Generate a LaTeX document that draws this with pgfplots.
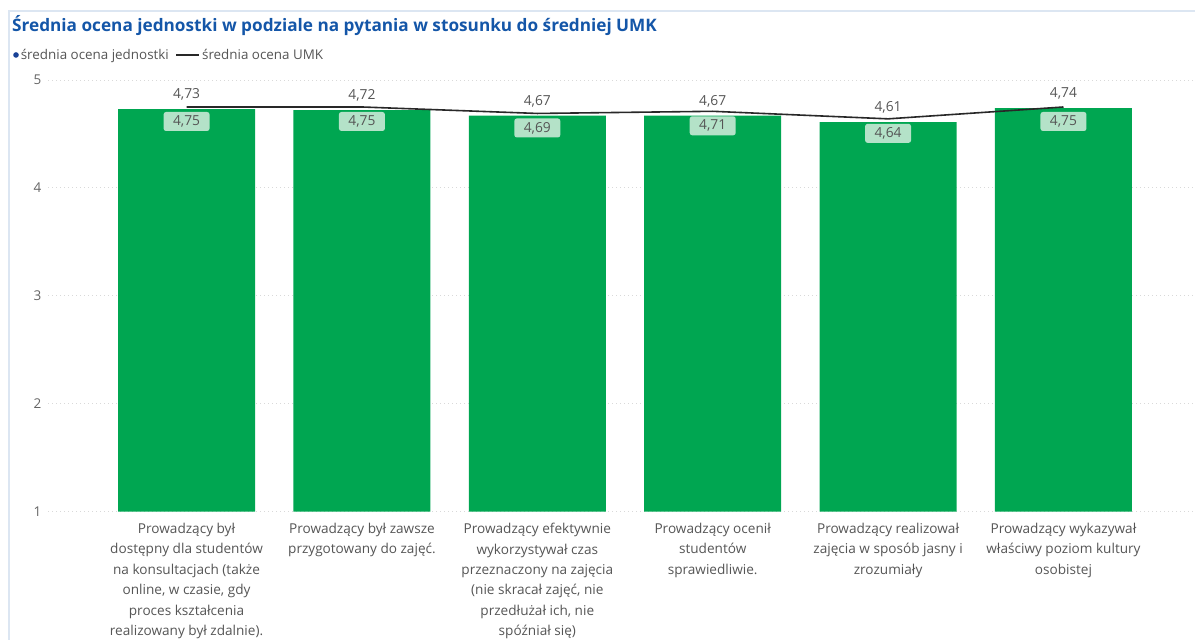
\documentclass[border=0pt]{standalone}
\usepackage{fontspec}
\setmainfont{Open Sans}
\usepackage{pgfplots}
\pgfplotsset{compat=1.18}
\definecolor{barg}{RGB}{0,166,81}
\definecolor{boxg}{RGB}{180,226,200}
\definecolor{titleblue}{RGB}{20,86,168}
\definecolor{framec}{RGB}{220,230,242}
\definecolor{labgrey}{RGB}{85,85,85}
\definecolor{tickgrey}{RGB}{100,100,100}
\definecolor{legblue}{RGB}{25,65,150}
\definecolor{linec}{RGB}{40,40,40}
\begin{document}
\begin{tikzpicture}[x=1pt,y=1pt]
\path[use as bounding box] (0,0) rectangle (1195,640);
\draw[framec, line width=1.5pt] (9,-5) -- (9,629) -- (1200,629);
\node[anchor=base west, inner sep=0pt, text=titleblue, font=\bfseries\fontsize{17.2}{20}\selectfont] at (12,608.3) {Średnia ocena jednostki w podziale na pytania w stosunku do średniej UMK};
\begin{axis}[
  at={(48pt,128.3pt)}, anchor=south west,
  scale only axis, width=1147pt, height=431.7pt,
  xmin=-0.79, xmax=5.75, ymin=1, ymax=5,
  axis line style={draw=none}, tick style={draw=none},
  ytick={1,2,3,4,5},
  ymajorgrids, grid style={dash pattern=on 1pt off 3pt, gray!30, line width=0.9pt},
  /pgf/number format/assume math mode=true,
  yticklabel style={font=\fontsize{13.5}{15}\selectfont, text=tickgrey, xshift=-3pt},
  xtick={0,1,2,3,4,5},
  xticklabels={
    {Prowadzący był\\dostępny dla studentów\\na konsultacjach (także\\online, w czasie, gdy\\proces kształcenia\\realizowany był zdalnie).},
    {Prowadzący był zawsze\\przygotowany do zajęć.},
    {Prowadzący efektywnie\\wykorzystywał czas\\przeznaczony na zajęcia\\(nie skracał zajęć, nie\\przedłużał ich, nie\\spóźniał się)},
    {Prowadzący ocenił\\studentów\\sprawiedliwie.},
    {Prowadzący realizował\\zajęcia w sposób jasny i\\zrozumiały},
    {Prowadzący wykazywał\\właściwy poziom kultury\\osobistej}},
  xticklabel style={align=center, anchor=north, text=labgrey, font=\fontsize{13.6}{20.4}\selectfont, yshift=-8pt},
  legend columns=2,
  legend style={draw=none, fill=none, at={(axis description cs:-0.0305,1.058)}, anchor=west,
    font=\fontsize{13.4}{15}\selectfont, text=labgrey, inner sep=0pt,
    /tikz/every even column/.append style={column sep=5pt}},
]
\addplot[ybar, bar width=137pt, fill=barg, draw=none,
  legend image code/.code={\fill[legblue] (4pt,0pt) circle (2.8pt);},
  nodes near coords={\pgfmathprintnumber[fixed,fixed zerofill,precision=2,use comma,assume math mode=true]{\pgfplotspointmeta}},
  every node near coord/.append style={anchor=center, yshift=14.5pt, text=labgrey, font=\fontsize{13.8}{15}\selectfont}]
  coordinates {(0,4.73) (1,4.72) (2,4.67) (3,4.67) (4,4.61) (5,4.74)};
\addlegendentry{średnia ocena jednostki}
\addplot[linec, line width=1.6pt, no marks,
  legend image code/.code={\draw[linec, line width=1.3pt] (4pt,0pt) -- (27pt,0pt);},
  nodes near coords={\pgfmathprintnumber[fixed,fixed zerofill,precision=2,use comma,assume math mode=true]{\pgfplotspointmeta}},
  every node near coord/.append style={anchor=center, yshift=-14.5pt, text=labgrey, fill=boxg, rounded corners=2.5pt, minimum width=46pt, minimum height=19pt, inner sep=1pt, font=\fontsize{13.8}{15}\selectfont}]
  coordinates {(0,4.75) (1,4.75) (2,4.69) (3,4.71) (4,4.64) (5,4.75)};
\addlegendentry{średnia ocena UMK}
\end{axis}
\end{tikzpicture}
\end{document}
